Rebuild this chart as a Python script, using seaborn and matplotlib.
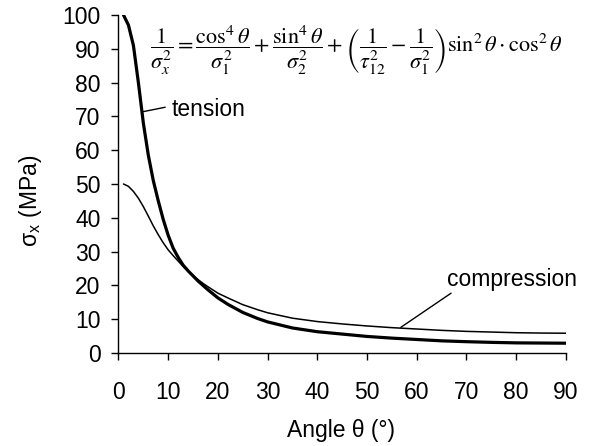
import matplotlib
matplotlib.use("Agg")
import matplotlib.pyplot as plt
import seaborn as sns
import pandas as pd

# Values
angles = [1, 2, 3, 4, 5, 6, 7, 8, 9, 10, 11, 12, 13, 14, 15, 16, 17, 18, 20, 22,
          25, 28, 30, 35, 40, 45, 50, 55, 60, 65, 70, 75, 80, 85, 90]
tension = [100, 97, 91, 80, 68, 58.5, 51, 45, 39.5, 34.8, 31, 28.3, 26, 24.3,
           22.8, 21.3, 20, 18.7, 16.3, 14.4, 12.0, 10.2, 9.2, 7.4, 6.3, 5.6, 4.9,
           4.4, 4.0, 3.6, 3.35, 3.15, 3.0, 2.95, 2.9]
compression = [50, 49.3, 47.8, 45.8, 43.3, 40.5, 37.6, 35, 32.6, 30.5, 28.8, 27.2,
               25.6, 24.2, 22.9, 21.7, 20.6, 19.6, 17.7, 16.3, 14.3, 12.8, 11.9,
               10.3, 9.3, 8.6, 8.0, 7.5, 7.1, 6.7, 6.4, 6.2, 6.0, 5.9, 5.85]
xticks = [0, 10, 20, 30, 40, 50, 60, 70, 80, 90]
yticks = [0, 10, 20, 30, 40, 50, 60, 70, 80, 90, 100]

df = pd.DataFrame({
    "angle": angles * 2,
    "sigma": tension + compression,
    "case": ["tension"] * len(angles) + ["compression"] * len(angles),
})

sns.set_theme(style="ticks")
plt.rcParams["font.family"] = ["Liberation Sans", "DejaVu Sans"]
plt.rcParams["mathtext.fontset"] = "stix"

fig = plt.figure(figsize=(6.03, 4.46), dpi=100)
ax = fig.add_axes([0.1965, 0.2085, 0.742, 0.758])

sns.lineplot(data=df, x="angle", y="sigma", hue="case", size="case",
             sizes={"tension": 2.3, "compression": 1.1},
             palette={"tension": "black", "compression": "black"},
             legend=False, ax=ax, estimator=None, sort=False)

ax.set_xlim(0, 90)
ax.set_ylim(0, 100)
ax.set_xticks(xticks)
ax.set_yticks(yticks)
ax.tick_params(axis="both", direction="out", length=5, width=1, color="black",
               labelsize=16.5, labelcolor="black")
ax.tick_params(axis="x", pad=15)
ax.tick_params(axis="y", pad=8)
for s in ["top", "right"]:
    ax.spines[s].set_visible(False)
for s in ["left", "bottom"]:
    ax.spines[s].set_color("black")
    ax.spines[s].set_linewidth(1)

ax.set_xlabel("Angle θ (°)", fontsize=16.5, color="black")
ax.set_ylabel(r"σ$_{\mathregular{x}}$ (MPa)", fontsize=16.5, color="black")
ax.xaxis.set_label_coords(0.497, -0.195)
ax.yaxis.set_label_coords(-0.166, 0.45)

eq = (r"$\dfrac{1}{\sigma_x^2}=\dfrac{\cos^4\theta}{\sigma_1^2}+\dfrac{\sin^4\theta}{\sigma_2^2}"
      r"+\left(\dfrac{1}{\tau_{12}^2}-\dfrac{1}{\sigma_1^2}\right)\sin^2\theta\cdot\cos^2\theta$")
ax.text(0.0704, 0.975, eq, transform=ax.transAxes, fontsize=16, ha="left", va="top",
        color="black")

ax.annotate("", xy=(5.0, 71.4), xytext=(9.4, 72.7),
            arrowprops=dict(arrowstyle="-", lw=1, color="black", shrinkA=0, shrinkB=0))
ax.text(10.7, 71.9, "tension", fontsize=16.5, ha="left", va="center", color="black")
ax.annotate("", xy=(56.8, 7.6), xytext=(66.9, 17.7),
            arrowprops=dict(arrowstyle="-", lw=1, color="black", shrinkA=0, shrinkB=0))
ax.text(66.0, 21.6, "compression", fontsize=16.5, ha="left", va="center", color="black")

fig.savefig("out.png", dpi=100)
